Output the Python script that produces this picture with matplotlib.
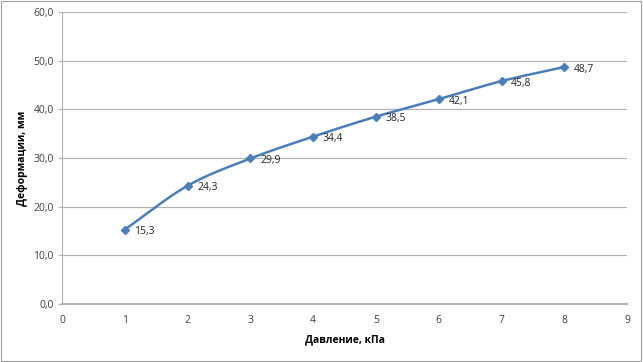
import numpy as np
import matplotlib; matplotlib.use('Agg')
import matplotlib.pyplot as plt
from matplotlib.ticker import FuncFormatter
plt.rcParams.update({'font.family': ['Open Sans', 'DejaVu Sans'], 'font.size': 7})

pressure = [1, 2, 3, 4, 5, 6, 7, 8]
deform = [15.3, 24.3, 29.9, 34.4, 38.5, 42.1, 45.8, 48.7]

def smooth(x, y, n=30):
    # Catmull-Rom curve through the points, like Excel's smoothed line
    x = np.asarray(x, float); y = np.asarray(y, float)
    px = np.r_[2*x[0]-x[1], x, 2*x[-1]-x[-2]]
    py = np.r_[2*y[0]-y[1], y, 2*y[-1]-y[-2]]
    t = np.linspace(0, 1, n)[:, None]
    xs, ys = [], []
    for i in range(1, len(px)-2):
        for p, out in ((px, xs), (py, ys)):
            p0, p1, p2, p3 = p[i-1], p[i], p[i+1], p[i+2]
            out.append((0.5*((2*p1) + (-p0+p2)*t + (2*p0-5*p1+4*p2-p3)*t**2 + (-p0+3*p1-3*p2+p3)*t**3)).ravel())
    return np.concatenate(xs), np.concatenate(ys)

fig = plt.figure(figsize=(6.43, 3.62), dpi=100)
fig.patches.append(plt.Rectangle((0.002, 0.003), 0.995, 0.993, transform=fig.transFigure,
                                 fill=False, ec='#a0a0a0', lw=0.8))
ax = fig.add_axes([0.0964, 0.160, 0.879, 0.807])
sx, sy = smooth(pressure, deform)
ax.plot(sx, sy, color='#4a7ebb', lw=1.8, zorder=3)
ax.plot(pressure, deform, ls='none', marker='D', ms=4, color='#4a7ebb', zorder=4)
for x, y in zip(pressure, deform):
    ax.annotate(f'{y:.1f}'.replace('.', ','), (x, y), xytext=(7, -1.5), textcoords='offset points',
                fontsize=7.5, color='#262626', va='center')
ax.set_xlim(0, 9); ax.set_ylim(0, 60)
ax.set_xticks(range(0, 10)); ax.set_yticks(range(0, 61, 10))
ax.yaxis.set_major_formatter(FuncFormatter(lambda v, p: f'{v:.1f}'.replace('.', ',')))
ax.grid(axis='y', color='#b3b3b3', lw=0.9)
ax.set_axisbelow(True)
for s in ('top', 'right'):
    ax.spines[s].set_visible(False)
ax.spines['left'].set_color('#b3b3b3')
ax.spines['bottom'].set_color('#b3b3b3'); ax.spines['bottom'].set_linewidth(1.5)
ax.tick_params(axis='y', length=3, color='#b3b3b3', colors='#404040', pad=3, labelsize=7.5)
ax.tick_params(axis='x', length=0, colors='#404040', pad=8, labelsize=7.5)
ax.set_xlabel('Давление, кПа', fontsize=7.5, fontweight='bold', labelpad=6)
ax.set_ylabel('Деформации, мм', fontsize=7.5, fontweight='bold', labelpad=4)
fig.savefig('out.png', dpi=100, facecolor='white')
